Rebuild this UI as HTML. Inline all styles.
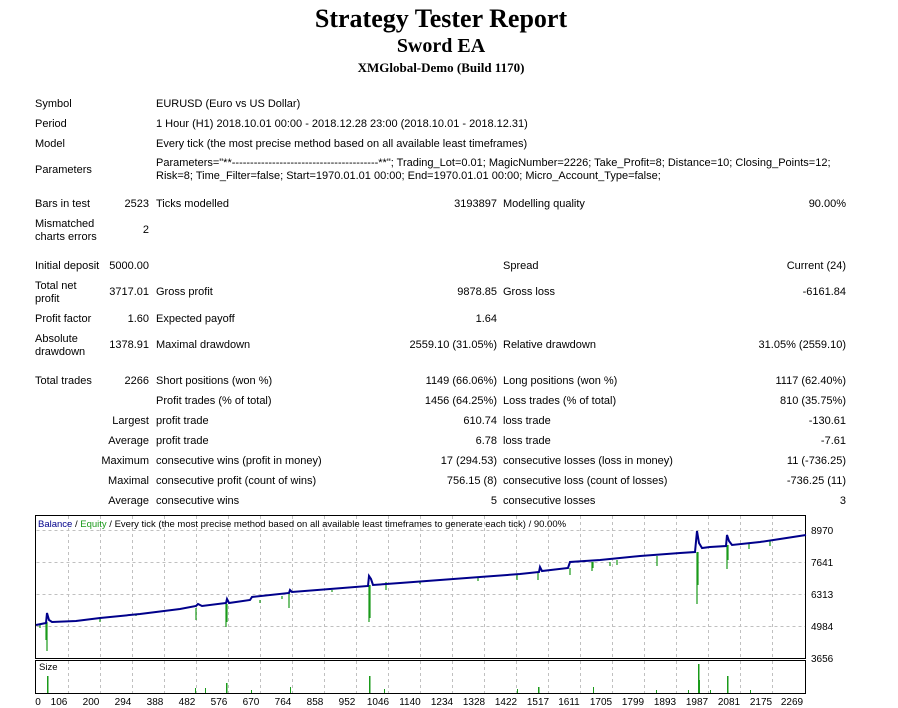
<!DOCTYPE html>
<html><head><meta charset="utf-8"><style>
body{margin:0;width:898px;height:708px;background:#fff;position:relative;overflow:hidden;font-family:"Liberation Sans",sans-serif;font-size:11px;color:#000}
div.t{position:absolute;white-space:nowrap;line-height:13px}
.r{text-align:right}
.h{font-family:"Liberation Serif",serif;font-weight:bold;position:absolute;left:0;width:882px;text-align:center;white-space:nowrap}
</style></head><body>
<div class="h" style="top:4px;font-size:26px">Strategy Tester Report</div>
<div class="h" style="top:35px;font-size:20px">Sword EA</div>
<div class="h" style="top:60px;font-size:13px">XMGlobal-Demo (Build 1170)</div>

<div class="t" style="left:35px;top:98px">Symbol</div><div class="t" style="left:156px;top:98px">EURUSD (Euro vs US Dollar)</div>
<div class="t" style="left:35px;top:118px">Period</div><div class="t" style="left:156px;top:118px">1 Hour (H1) 2018.10.01 00:00 - 2018.12.28 23:00 (2018.10.01 - 2018.12.31)</div>
<div class="t" style="left:35px;top:138px">Model</div><div class="t" style="left:156px;top:138px">Every tick (the most precise method based on all available least timeframes)</div>
<div class="t" style="left:35px;top:164px">Parameters</div>
<div class="t" style="left:156px;top:157px">Parameters="**----------------------------------------**"; Trading_Lot=0.01; MagicNumber=2226; Take_Profit=8; Distance=10; Closing_Points=12;</div>
<div class="t" style="left:156px;top:170px">Risk=8; Time_Filter=false; Start=1970.01.01 00:00; End=1970.01.01 00:00; Micro_Account_Type=false;</div>

<div class="t" style="left:35px;top:198px">Bars in test</div><div class="t r" style="right:749px;top:198px">2523</div>
<div class="t" style="left:156px;top:198px">Ticks modelled</div><div class="t r" style="right:401px;top:198px">3193897</div>
<div class="t" style="left:503px;top:198px">Modelling quality</div><div class="t r" style="right:52px;top:198px">90.00%</div>
<div class="t" style="left:35px;top:218px">Mismatched<br>charts errors</div><div class="t r" style="right:749px;top:224px">2</div>

<div class="t" style="left:35px;top:260px">Initial deposit</div><div class="t r" style="right:749px;top:260px">5000.00</div>
<div class="t" style="left:503px;top:260px">Spread</div><div class="t r" style="right:52px;top:260px">Current (24)</div>
<div class="t" style="left:35px;top:280px">Total net<br>profit</div><div class="t r" style="right:749px;top:286px">3717.01</div>
<div class="t" style="left:156px;top:286px">Gross profit</div><div class="t r" style="right:401px;top:286px">9878.85</div>
<div class="t" style="left:503px;top:286px">Gross loss</div><div class="t r" style="right:52px;top:286px">-6161.84</div>
<div class="t" style="left:35px;top:313px">Profit factor</div><div class="t r" style="right:749px;top:313px">1.60</div>
<div class="t" style="left:156px;top:313px">Expected payoff</div><div class="t r" style="right:401px;top:313px">1.64</div>
<div class="t" style="left:35px;top:333px">Absolute<br>drawdown</div><div class="t r" style="right:749px;top:339px">1378.91</div>
<div class="t" style="left:156px;top:339px">Maximal drawdown</div><div class="t r" style="right:401px;top:339px">2559.10 (31.05%)</div>
<div class="t" style="left:503px;top:339px">Relative drawdown</div><div class="t r" style="right:52px;top:339px">31.05% (2559.10)</div>

<div class="t" style="left:35px;top:375px">Total trades</div><div class="t r" style="right:749px;top:375px">2266</div>
<div class="t" style="left:156px;top:375px">Short positions (won %)</div><div class="t r" style="right:401px;top:375px">1149 (66.06%)</div>
<div class="t" style="left:503px;top:375px">Long positions (won %)</div><div class="t r" style="right:52px;top:375px">1117 (62.40%)</div>
<div class="t" style="left:156px;top:395px">Profit trades (% of total)</div><div class="t r" style="right:401px;top:395px">1456 (64.25%)</div>
<div class="t" style="left:503px;top:395px">Loss trades (% of total)</div><div class="t r" style="right:52px;top:395px">810 (35.75%)</div>
<div class="t r" style="right:749px;top:415px">Largest</div><div class="t" style="left:156px;top:415px">profit trade</div><div class="t r" style="right:401px;top:415px">610.74</div>
<div class="t" style="left:503px;top:415px">loss trade</div><div class="t r" style="right:52px;top:415px">-130.61</div>
<div class="t r" style="right:749px;top:435px">Average</div><div class="t" style="left:156px;top:435px">profit trade</div><div class="t r" style="right:401px;top:435px">6.78</div>
<div class="t" style="left:503px;top:435px">loss trade</div><div class="t r" style="right:52px;top:435px">-7.61</div>
<div class="t r" style="right:749px;top:455px">Maximum</div><div class="t" style="left:156px;top:455px">consecutive wins (profit in money)</div><div class="t r" style="right:401px;top:455px">17 (294.53)</div>
<div class="t" style="left:503px;top:455px">consecutive losses (loss in money)</div><div class="t r" style="right:52px;top:455px">11 (-736.25)</div>
<div class="t r" style="right:749px;top:475px">Maximal</div><div class="t" style="left:156px;top:475px">consecutive profit (count of wins)</div><div class="t r" style="right:401px;top:475px">756.15 (8)</div>
<div class="t" style="left:503px;top:475px">consecutive loss (count of losses)</div><div class="t r" style="right:52px;top:475px">-736.25 (11)</div>
<div class="t r" style="right:749px;top:495px">Average</div><div class="t" style="left:156px;top:495px">consecutive wins</div><div class="t r" style="right:401px;top:495px">5</div>
<div class="t" style="left:503px;top:495px">consecutive losses</div><div class="t r" style="right:52px;top:495px">3</div>

<svg style="position:absolute;left:0;top:0" width="898" height="708" font-family="Liberation Sans, sans-serif" font-size="10">
<g stroke="#c0c0c0" stroke-dasharray="3,3" stroke-width="1">
<path d="M36.5 562.5H806M36.5 594.5H806M36.5 626.5H806M36.5 530.5H806"/>
<path d="M68.5 516V658M100.5 516V658M132.5 516V658M164.5 516V658M196.5 516V658M228.5 516V658M260.5 516V658M292.5 516V658M324.5 516V658M356.5 516V658M388.5 516V658M420.5 516V658M452.5 516V658M484.5 516V658M516.5 516V658M548.5 516V658M580.5 516V658M612.5 516V658M644.5 516V658M676.5 516V658M708.5 516V658M740.5 516V658M772.5 516V658"/>
<path d="M68.5 661V693M100.5 661V693M132.5 661V693M164.5 661V693M196.5 661V693M228.5 661V693M260.5 661V693M292.5 661V693M324.5 661V693M356.5 661V693M388.5 661V693M420.5 661V693M452.5 661V693M484.5 661V693M516.5 661V693M548.5 661V693M580.5 661V693M612.5 661V693M644.5 661V693M676.5 661V693M708.5 661V693M740.5 661V693M772.5 661V693"/>
</g>
<rect x="35.5" y="515.5" width="770" height="143" fill="none" stroke="#000"/>
<rect x="35.5" y="660.5" width="770" height="33" fill="none" stroke="#000"/>
<g stroke="#1a9a1a" stroke-width="1.2" fill="none">
<path d="M47 622V651M46 622V640M196 608V620M226 604V627M227 604V622M289 593V608M369 585V622M370 585V618M386 582V590M538 572V580M570 568V575M592 562V571M593 562V568M657 556V566M697 552V604M698 552V585M727 545V569M728 545V560M517 575V580M617 560V565M40 624V628M100 619V622M136 614V616M282 596V599M332 590V592M420 581V584M478 578V581M610 562V566M749 543V549M770 541V546M260 600V603"/>
</g>
<polyline fill="none" stroke="#00008b" stroke-width="2" points="36,625 46,623 47,613 49,620 52,622 76,621 100,618 140,614 180,609 196,606 198,604 202,606 226,603 227,599 229,603 250,600 252,597 289,593 290,590 292,592 330,589 368,586 369,576 371,579 373,585 400,583 440,580 480,577 520,574 539,572 540,567 542,571 568,568 570,562 600,560 640,556 680,553 695,552 697,531 699,543 702,548 710,547 726,546 727,535 729,541 732,545 760,542 780,539 806,535"/>
<g fill="#1a9a1a">
<rect x="47" y="676" width="1.5" height="17"/><rect x="195" y="688" width="1" height="5"/><rect x="205" y="688" width="1" height="5"/><rect x="226" y="683" width="1.5" height="10"/><rect x="251" y="690" width="1" height="3"/><rect x="290" y="687" width="1" height="6"/><rect x="369" y="676" width="1.5" height="17"/><rect x="384" y="689" width="1" height="4"/><rect x="517" y="689" width="1" height="4"/><rect x="538" y="687" width="1.5" height="6"/><rect x="593" y="687" width="1" height="6"/><rect x="656" y="690" width="1" height="3"/><rect x="688" y="690" width="1" height="3"/><rect x="698" y="664" width="1.5" height="29"/><rect x="699" y="680" width="1" height="13"/><rect x="710" y="690" width="1" height="3"/><rect x="727" y="676" width="1.5" height="17"/><rect x="750" y="690" width="1" height="3"/>
</g>
<text x="38" y="527" font-size="9.5"><tspan fill="#00008b">Balance</tspan> / <tspan fill="#1a9a1a">Equity</tspan> / Every tick (the most precise method based on all available least timeframes to generate each tick) / 90.00%</text>
<text x="39" y="670" font-size="9.5">Size</text>
<g font-size="10">
<text x="811" y="534">8970</text><text x="811" y="566">7641</text><text x="811" y="598">6313</text><text x="811" y="630">4984</text><text x="811" y="662">3656</text>
</g>
<g font-size="10" text-anchor="middle">
<text x="38" y="705">0</text><text x="59" y="705">106</text><text x="91" y="705">200</text><text x="123" y="705">294</text><text x="155" y="705">388</text><text x="187" y="705">482</text><text x="219" y="705">576</text><text x="251" y="705">670</text><text x="283" y="705">764</text><text x="315" y="705">858</text><text x="347" y="705">952</text><text x="378" y="705">1046</text><text x="410" y="705">1140</text><text x="442" y="705">1234</text><text x="474" y="705">1328</text><text x="506" y="705">1422</text><text x="538" y="705">1517</text><text x="569" y="705">1611</text><text x="601" y="705">1705</text><text x="633" y="705">1799</text><text x="665" y="705">1893</text><text x="697" y="705">1987</text><text x="729" y="705">2081</text><text x="761" y="705">2175</text><text x="792" y="705">2269</text>
</g>
</svg>
</body></html>
